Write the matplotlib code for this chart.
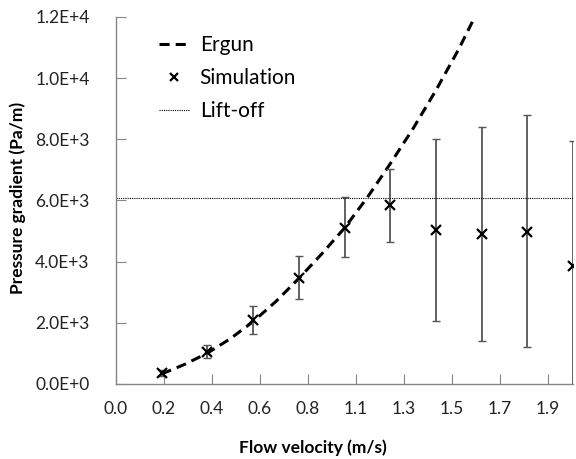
import matplotlib.pyplot as plt
import numpy as np

plt.rcParams["font.family"] = ["Lato", "DejaVu Sans"]

# simulation results
velocity = [0.2, 0.4, 0.6, 0.8, 1.0, 1.2, 1.4, 1.6, 1.8, 2.0]
grad_sim = [360, 1030, 2090, 3470, 5100, 5850, 5030, 4900, 4970, 3860]
err_low = [100, 180, 450, 690, 940, 1210, 2970, 3500, 3760, 4110]
err_high = [100, 250, 460, 710, 1000, 1180, 2980, 3500, 3830, 4090]

# Ergun curve
ergun_u = [0.2, 0.3, 0.4, 0.5, 0.6, 0.7, 0.8, 0.9, 1.0, 1.1, 1.2, 1.3, 1.4, 1.5, 1.6]
ergun_dp = [330, 640, 1010, 1480, 2040, 2700, 3450, 4250, 5100, 6100, 7200,
            8350, 9600, 10950, 12450]

liftoff = 6070

xticks = [0.0, 0.21, 0.42, 0.63, 0.84, 1.05, 1.26, 1.47, 1.68, 1.89]
xtick_labels = ["0.0", "0.2", "0.4", "0.6", "0.8", "1.1", "1.3", "1.5", "1.7", "1.9"]
yticks = [0, 2000, 4000, 6000, 8000, 10000, 12000]
ytick_labels = ["0.0E+0", "2.0E+3", "4.0E+3", "6.0E+3", "8.0E+3", "1.0E+4", "1.2E+4"]

fig = plt.figure(figsize=(5.76, 4.59), dpi=100)
ax = fig.add_axes([0.2014, 0.1634, 0.7934, 0.7996])

ax.plot(ergun_u, ergun_dp, color="black", lw=2.2, ls=(0, (3.3, 2.0)), label="Ergun")
ax.errorbar(velocity, grad_sim, yerr=[err_low, err_high], fmt="none",
            ecolor="#555555", elinewidth=1.3, capsize=3, capthick=1.0)
ax.plot(velocity, grad_sim, ls="none", marker="x", ms=7.5, mew=1.6,
        color="black", label="Simulation")
ax.axhline(liftoff, color="black", lw=0.8, ls=(0, (1, 1)), label="Lift-off")

ax.set_xlim(0, 2.0)
ax.set_ylim(0, 12000)
ax.set_xticks(xticks)
ax.set_xticklabels(xtick_labels)
ax.set_yticks(yticks)
ax.set_yticklabels(ytick_labels)

for s in ["top", "right"]:
    ax.spines[s].set_visible(False)
for s in ["left", "bottom"]:
    ax.spines[s].set_color("#868686")
    ax.spines[s].set_linewidth(1.0)
ax.tick_params(direction="in", length=7, color="#868686", labelsize=12.5,
               labelcolor="#222222")
ax.tick_params(axis="x", pad=12)
ax.tick_params(axis="y", pad=19)

ax.set_xlabel("Flow velocity (m/s)", fontsize=12.5, fontweight="bold", va="center")
ax.set_ylabel("Pressure gradient (Pa/m)", fontsize=12.5, fontweight="bold", va="center")
ax.xaxis.set_label_coords((313 - 116) / 457, (384 - 448) / 367)
ax.yaxis.set_label_coords((18 - 116) / 457, (384 - 198) / 367)

leg = ax.legend(loc="upper left", bbox_to_anchor=(159 / 576, 1 - 35 / 459),
                bbox_transform=fig.transFigure, frameon=False, fontsize=15,
                handlelength=1.45, handletextpad=0.5, labelspacing=0.62,
                borderpad=0, borderaxespad=0, markerscale=0.8)

fig.savefig("out.png", dpi=100)
